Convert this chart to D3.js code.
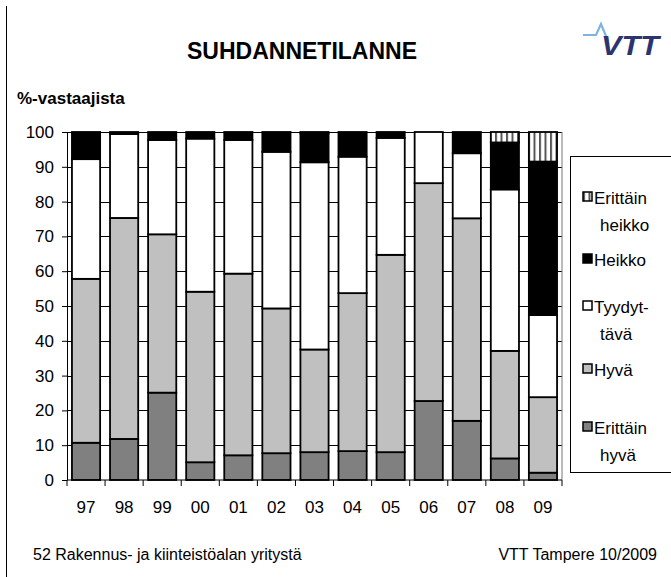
<!DOCTYPE html>
<html lang="fi">
<head>
<meta charset="UTF-8">
<title>Suhdannetilanne</title>
<script src="https://d3js.org/d3.v7.min.js"></script>
<style>
  body { margin: 0; background: #fff; }
  text { font-family: "Liberation Sans", Arial, sans-serif; }
</style>
</head>
<body>
<script>
// vuodet ja vastausten jakaumat (%)
var years = ["97", "98", "99", "00", "01", "02", "03", "04", "05", "06", "07", "08", "09"];
var erittainHyva   = [10.7, 11.8, 25.1, 5.1, 7.1, 7.7, 8.0, 8.3, 8.0, 22.7, 17.0, 6.2, 2.1];
var hyva           = [47.1, 63.5, 45.5, 49.0, 52.2, 41.6, 29.5, 45.4, 56.7, 62.6, 58.2, 30.9, 21.7];
var tyydyttava     = [34.4, 24.1, 27.1, 44.0, 38.4, 45.0, 53.8, 39.2, 33.6, 14.7, 18.7, 46.4, 23.6];
var heikko         = [7.8, 0.6, 2.3, 1.9, 2.3, 5.7, 8.3, 7.1, 1.7, 0, 6.1, 13.5, 44.1];
var erittainHeikko = [0, 0, 0, 0, 0, 0, 0.4, 0, 0, 0, 0, 3.0, 8.5];
var yTicks = [0, 10, 20, 30, 40, 50, 60, 70, 80, 90, 100];

var keys = ["eh", "h", "t", "hk", "ehk"];
var legendRows = [
  { key: "ehk", lines: ["Erittäin", "heikko"], y: 204 },
  { key: "hk",  lines: ["Heikko"],             y: 266 },
  { key: "t",   lines: ["Tyydyt-", "tävä"],    y: 313 },
  { key: "h",   lines: ["Hyvä"],               y: 376 },
  { key: "eh",  lines: ["Erittäin", "hyvä"],   y: 434 }
];
var fills = { eh: "#808080", h: "#c0c0c0", t: "#ffffff", hk: "#000000", ehk: "url(#stripes)" };

var rows = years.map(function (yr, i) {
  return { year: yr, eh: erittainHyva[i], h: hyva[i], t: tyydyttava[i], hk: heikko[i], ehk: erittainHeikko[i] };
});

var W = 671, H = 577;
var svg = d3.select("body").append("svg").attr("width", W).attr("height", H);

// raidat
var pat = svg.append("defs").append("pattern")
  .attr("id", "stripes").attr("patternUnits", "userSpaceOnUse")
  .attr("width", 5.5).attr("height", 10);
pat.append("rect").attr("width", 5.5).attr("height", 10).attr("fill", "#fff");
pat.append("rect").attr("x", 0).attr("width", 2).attr("height", 10).attr("fill", "#555");

// kehys
svg.append("line").attr("x1", 6.5).attr("x2", 6.5).attr("y1", 6).attr("y2", H).attr("stroke", "#000");

var x = d3.scaleBand().domain(years).range([67, 562]).paddingInner(0.26).paddingOuter(0.13);
var y = d3.scaleLinear().domain([0, 100]).range([480, 132]);

// apuviivat
svg.append("g").selectAll("line").data(yTicks.slice(1)).enter().append("line")
  .attr("x1", 67).attr("x2", 562)
  .attr("y1", function (d) { return Math.round(y(d)) + 0.5; })
  .attr("y2", function (d) { return Math.round(y(d)) + 0.5; })
  .attr("stroke", "#000").attr("stroke-width", 1);
svg.append("line").attr("x1", 562).attr("x2", 562).attr("y1", y(100)).attr("y2", y(0))
  .attr("stroke", "#777");

// pylväät
var stack = d3.stack().keys(keys)(rows);
svg.append("g").selectAll("g").data(stack).enter().append("g")
  .attr("fill", function (s) { return fills[s.key]; })
  .selectAll("rect").data(function (s) { return s.filter(function (d) { return d[1] - d[0] > 0; }); })
  .enter().append("rect")
  .attr("x", function (d) { return x(d.data.year); })
  .attr("width", x.bandwidth())
  .attr("y", function (d) { return y(d[1]); })
  .attr("height", function (d) { return y(d[0]) - y(d[1]); })
  .attr("stroke", "#000").attr("stroke-width", 1.8);

// y-akseli
var yAxis = svg.append("g").attr("transform", "translate(67,0)")
  .call(d3.axisLeft(y).tickValues(yTicks).tickSize(5).tickPadding(8).tickSizeOuter(0));
yAxis.select(".domain").attr("stroke", "#000");
yAxis.selectAll("text").attr("font-size", 17).attr("fill", "#000")
  .style("font-family", "'Liberation Sans', Arial, sans-serif");

// x-akseli
var xg = svg.append("g").attr("transform", "translate(0,480)");
xg.append("line").attr("x1", 67).attr("x2", 562).attr("stroke", "#000");
xg.selectAll("line.tk").data(years.concat(["end"])).enter().append("line").attr("class", "tk")
  .attr("x1", function (d, i) { return 67 + i * x.step(); })
  .attr("x2", function (d, i) { return 67 + i * x.step(); })
  .attr("y1", 0).attr("y2", 6).attr("stroke", "#000");
xg.selectAll("text").data(years).enter().append("text")
  .attr("x", function (d) { return x(d) + x.bandwidth() / 2; })
  .attr("y", 33).attr("text-anchor", "middle").attr("font-size", 17)
  .text(function (d) { return d; });

// otsikot
svg.append("text").attr("x", 302).attr("y", 59).attr("text-anchor", "middle")
  .attr("font-size", 23).attr("font-weight", "bold").text("SUHDANNETILANNE");
svg.append("text").attr("x", 17).attr("y", 104).attr("font-size", 17)
  .attr("font-weight", "bold").text("%-vastaajista");
svg.append("text").attr("x", 33).attr("y", 560).attr("font-size", 16)
  .text("52 Rakennus- ja kiinteistöalan yritystä");
svg.append("text").attr("x", 657).attr("y", 560).attr("font-size", 16)
  .attr("text-anchor", "end").text("VTT Tampere 10/2009");

// selite
svg.append("rect").attr("x", 570.5).attr("y", 156.5).attr("width", 120).attr("height", 316)
  .attr("fill", "none").attr("stroke", "#000");
var lg = svg.append("g").selectAll("g").data(legendRows).enter().append("g");
lg.append("rect").attr("x", 583).attr("y", function (d) { return d.y - 12; })
  .attr("width", 9).attr("height", 9)
  .attr("fill", function (d) { return fills[d.key]; })
  .attr("stroke", "#000").attr("stroke-width", 1.5);
lg.each(function (d) {
  var g = d3.select(this);
  d.lines.forEach(function (ln, j) {
    g.append("text").attr("x", j === 0 ? 594 : 600).attr("y", d.y + j * 27)
      .attr("font-size", 17).text(ln);
  });
});

// VTT-logo
svg.append("path").attr("d", "M583,35 L596,35 L601,24 L608,41")
  .attr("fill", "none").attr("stroke", "#7db4e0").attr("stroke-width", 2.2);
svg.append("text").attr("x", 601).attr("y", 55).attr("font-size", 28)
  .attr("font-weight", "bold").attr("font-style", "italic").attr("fill", "#2c3470")
  .attr("textLength", 58).attr("lengthAdjust", "spacingAndGlyphs")
  .text("VTT");
</script>
</body>
</html>
